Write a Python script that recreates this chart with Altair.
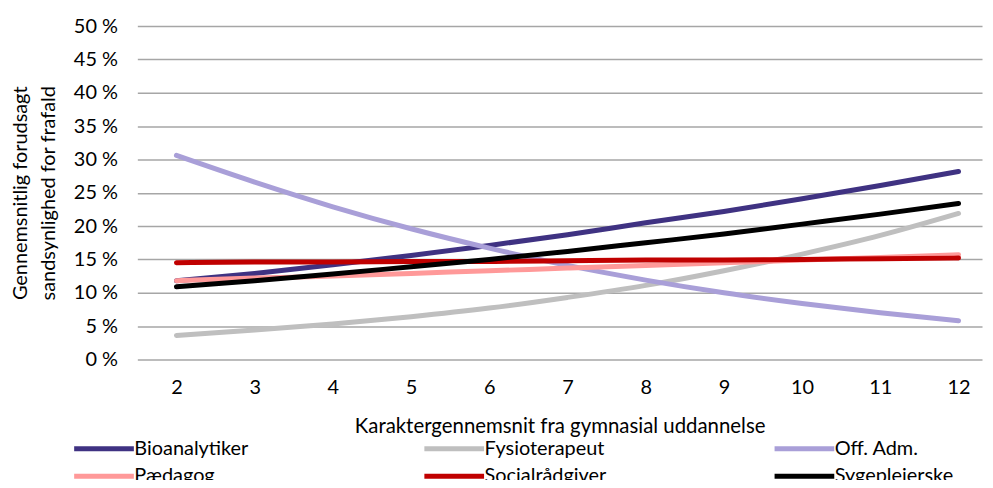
import altair as alt
import pandas as pd

grades = [2, 3, 4, 5, 6, 7, 8, 9, 10, 11, 12]
bioanalytiker = [11.8, 12.9, 14.2, 15.6, 17.1, 18.7, 20.5, 22.2, 24.1, 26.1, 28.2]
fysioterapeut = [3.6, 4.4, 5.3, 6.4, 7.7, 9.3, 11.1, 13.3, 15.8, 18.6, 21.9]
off_adm = [30.6, 26.6, 22.9, 19.6, 16.7, 14.1, 11.9, 10.0, 8.4, 7.0, 5.8]
paedagog = [11.8, 12.2, 12.5, 12.9, 13.3, 13.7, 14.1, 14.5, 14.9, 15.3, 15.7]
socialraadgiver = [14.5, 14.6, 14.6, 14.7, 14.7, 14.8, 14.9, 14.9, 15.0, 15.1, 15.2]
sygeplejerske = [10.9, 11.8, 12.8, 13.9, 15.0, 16.2, 17.5, 18.8, 20.3, 21.8, 23.4]

series_names = ["Bioanalytiker", "Fysioterapeut", "Off. Adm.", "Pædagog", "Socialrådgiver", "Sygeplejerske"]
series_values = [bioanalytiker, fysioterapeut, off_adm, paedagog, socialraadgiver, sygeplejerske]
series_colors = ["#3f3282", "#bfbfbf", "#a99fd8", "#ff9999", "#c00000", "#000000"]
y_ticks = [0, 5, 10, 15, 20, 25, 30, 35, 40, 45, 50]

rows = []
for name, vals in zip(series_names, series_values):
    for g, v in zip(grades, vals):
        rows.append({"grade": g, "value": v, "series": name})
df = pd.DataFrame(rows)

FONT = "Lato"
FS = 20

chart = alt.Chart(df).mark_line(strokeWidth=5, strokeCap="round", interpolate="monotone").encode(
    x=alt.X("grade:Q",
            scale=alt.Scale(domain=[1.5, 12.3], nice=False, zero=False),
            axis=alt.Axis(values=grades, format="d", grid=False, ticks=False, domain=False,
                          labelFontSize=FS, labelPadding=18, labelColor="#000",
                          title="Karaktergennemsnit fra gymnasial uddannelse",
                          titleFontSize=20.5, titleFontWeight="normal", titleColor="#000",
                          titlePadding=19)),
    y=alt.Y("value:Q",
            scale=alt.Scale(domain=[0, 50], nice=False),
            axis=alt.Axis(values=y_ticks, labelExpr="datum.value + ' %'", ticks=False, domain=False,
                          grid=True, gridColor="#a6a6a6", gridWidth=1.5,
                          labelFontSize=FS, labelPadding=20, labelColor="#000",
                          title=["Gennemsnitlig forudsagt", "sandsynlighed for frafald"],
                          titleFontSize=FS, titleFontWeight="normal", titleColor="#000",
                          titleLineHeight=28, titlePadding=15)),
    color=alt.Color("series:N",
                    scale=alt.Scale(domain=series_names, range=series_colors),
                    legend=alt.Legend(title=None, orient="none", legendX=-66, legendY=412,
                                      direction="horizontal", columns=3, gridAlign="all",
                                      columnPadding=158, rowPadding=5,
                                      symbolType="M-1,0L5,0", symbolSize=400, symbolStrokeWidth=5,
                                      labelFontSize=FS, labelColor="#000", labelOffset=38,
                                      labelLimit=300)),
).properties(
    width=849, height=335,
    autosize=alt.AutoSizeParams(type="none"),
    padding={"left": 130, "top": 17, "right": 3, "bottom": 120},
).configure(font=FONT).configure_view(stroke=None)

chart.save("out.html", embed_options={"renderer": "svg", "actions": False})
